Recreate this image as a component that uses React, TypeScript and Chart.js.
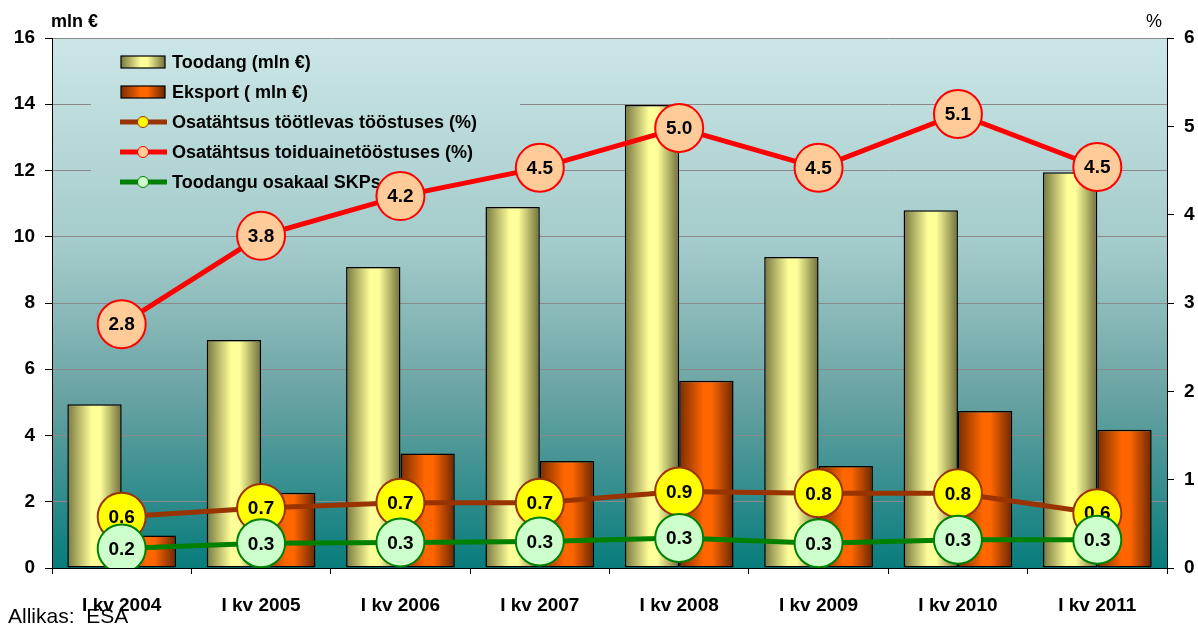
import React, { useEffect, useRef } from "react";
import { Chart, registerables } from "chart.js";

Chart.register(...registerables);

const categories = ["I kv 2004", "I kv 2005", "I kv 2006", "I kv 2007", "I kv 2008", "I kv 2009", "I kv 2010", "I kv 2011"];
const toodang = [4.94, 6.88, 9.09, 10.9, 13.98, 9.39, 10.8, 11.95];
const eksport = [0.98, 2.27, 3.46, 3.23, 5.65, 3.08, 4.74, 4.17];
const osaTootlev = [0.58, 0.68, 0.74, 0.74, 0.865, 0.845, 0.845, 0.62];
const osaToiduaine = [2.76, 3.76, 4.21, 4.53, 4.98, 4.53, 5.14, 4.54];
const osakaalSKP = [0.22, 0.28, 0.29, 0.3, 0.34, 0.28, 0.32, 0.32];

const seriesNames = [
  "Toodang (mln €)",
  "Eksport ( mln €)",
  "Osatähtsus töötlevas tööstuses (%)",
  "Osatähtsus toiduainetööstuses (%)",
  "Toodangu osakaal SKPs",
];
const leftAxisTitle = "mln €";
const rightAxisTitle = "%";
const sourceNote = "Allikas:  ESA";

const FONT = '"Liberation Sans", Arial, sans-serif';

function makeBg(ctx: CanvasRenderingContext2D, top: number, bottom: number) {
  const g = ctx.createLinearGradient(0, top, 0, bottom);
  g.addColorStop(0, "#CCE6E6");
  g.addColorStop(0.4, "#A3CACA");
  g.addColorStop(0.68, "#68A2A2");
  g.addColorStop(1, "#087C7C");
  return g;
}

function barGrad(ctx: CanvasRenderingContext2D, left: number, width: number, dark1: string, bright: string, dark2: string) {
  const g = ctx.createLinearGradient(left, 0, left + width, 0);
  g.addColorStop(0, dark1);
  g.addColorStop(0.45, bright);
  g.addColorStop(0.6, bright);
  g.addColorStop(1, dark2);
  return g;
}

const barColors = [
  ["#77773F", "#FFFF99", "#6E6E3C"],
  ["#7A2C00", "#FF6600", "#6A2600"],
];

const lineStyles = [
  { line: "#993300", fill: "#FFFF00", border: "#993300" },
  { line: "#FF0000", fill: "#FFCC99", border: "#FF0000" },
  { line: "#008000", fill: "#CCFFCC", border: "#008000" },
];

const customPlugin = {
  id: "custom",
  beforeDraw(chart: any) {
    const { ctx, chartArea } = chart;
    const { left, top, right, bottom } = chartArea;
    ctx.save();
    ctx.fillStyle = makeBg(ctx, top, bottom);
    ctx.fillRect(left, top, right - left, bottom - top);
    ctx.restore();
  },
  beforeDatasetsDraw(chart: any) {
    const { ctx, chartArea } = chart;
    chart.data.datasets.forEach((ds: any, i: number) => {
      if (ds.type !== "bar") return;
      const meta = chart.getDatasetMeta(i);
      const cols = barColors[i];
      meta.data.forEach((el: any) => {
        const p = el.getProps(["x", "width"], true);
        const l = p.x - p.width / 2;
        el.options = Object.assign({}, el.options, {
          backgroundColor: barGrad(ctx, l, p.width, cols[0], cols[1], cols[2]),
        });
      });
    });
    ctx.save();
    ctx.fillStyle = makeBg(ctx, chartArea.top, chartArea.bottom);
    ctx.fillRect(91, 39.5, 429, 160);
    const rows = [62, 92, 122, 152, 182];
    ctx.font = `bold 18px ${FONT}`;
    ctx.textBaseline = "middle";
    ctx.textAlign = "left";
    rows.forEach((y, i) => {
      if (i < 2) {
        const c = barColors[i];
        ctx.fillStyle = barGrad(ctx, 121, 44, c[0], c[1], c[2]);
        ctx.fillRect(121, y - 6, 44, 12);
        ctx.lineWidth = 1.2;
        ctx.strokeStyle = "#000";
        ctx.strokeRect(121, y - 6, 44, 12);
      } else {
        const s = lineStyles[i - 2];
        ctx.strokeStyle = s.line;
        ctx.lineWidth = 5;
        ctx.beginPath();
        ctx.moveTo(120, y);
        ctx.lineTo(167, y);
        ctx.stroke();
        ctx.beginPath();
        ctx.arc(143, y, 5.5, 0, Math.PI * 2);
        ctx.fillStyle = s.fill;
        ctx.fill();
        ctx.lineWidth = 1;
        ctx.strokeStyle = s.border;
        ctx.stroke();
      }
      ctx.fillStyle = "#000";
      ctx.fillText(seriesNames[i], 172, y + 1);
    });
    ctx.restore();
  },
  afterDatasetDraw(chart: any, args: any) {
    const meta = args.meta;
    if (meta.type !== "line") return;
    const ds = chart.data.datasets[args.index];
    const { ctx } = chart;
    ctx.save();
    ctx.font = `bold 19px ${FONT}`;
    ctx.fillStyle = "#000";
    ctx.textAlign = "center";
    ctx.textBaseline = "middle";
    meta.data.forEach((el: any, j: number) => {
      const p = el.getProps(["x", "y"], true);
      ctx.fillText(Number(ds.data[j]).toFixed(1), p.x, p.y + 1);
    });
    ctx.restore();
  },
  afterDraw(chart: any) {
    const { ctx } = chart;
    ctx.save();
    ctx.fillStyle = "#000";
    ctx.textBaseline = "middle";
    ctx.textAlign = "left";
    ctx.font = `bold 18px ${FONT}`;
    ctx.fillText(leftAxisTitle, 51, 22);
    ctx.font = `18px ${FONT}`;
    ctx.fillText(rightAxisTitle, 1146, 22);
    ctx.font = `21px ${FONT}`;
    ctx.fillText(sourceNote, 8, 617);
    ctx.restore();
  },
};

export default function App() {
  const ref = useRef<HTMLCanvasElement | null>(null);
  useEffect(() => {
    if (!ref.current) return;
    const tickFont = { family: FONT, size: 19, weight: "bold" as const };
    const lineDs = (label: string, data: number[], s: any, order: number) => ({
      type: "line" as const,
      label,
      data,
      yAxisID: "y1",
      borderColor: s.line,
      borderWidth: 5,
      pointRadius: 24,
      pointHoverRadius: 24,
      pointBackgroundColor: s.fill,
      pointBorderColor: s.border,
      pointBorderWidth: 2,
      tension: 0,
      order,
    });
    const chart = new Chart(ref.current, {
      type: "bar",
      data: {
        labels: categories,
        datasets: [
          {
            type: "bar",
            label: seriesNames[0],
            data: toodang,
            yAxisID: "y",
            backgroundColor: "#FFFF99",
            borderColor: "#000",
            borderWidth: 1.5,
            borderSkipped: false,
            categoryPercentage: 0.78,
            barPercentage: 1,
            order: 3,
          },
          {
            type: "bar",
            label: seriesNames[1],
            data: eksport,
            yAxisID: "y",
            backgroundColor: "#FF6600",
            borderColor: "#000",
            borderWidth: 1.5,
            borderSkipped: false,
            categoryPercentage: 0.78,
            barPercentage: 1,
            order: 4,
          },
          lineDs(seriesNames[2], osaTootlev, lineStyles[0], 1),
          lineDs(seriesNames[3], osaToiduaine, lineStyles[1], 2),
          lineDs(seriesNames[4], osakaalSKP, lineStyles[2], 0),
        ] as any,
      },
      options: {
        animation: false,
        responsive: true,
        maintainAspectRatio: false,
        layout: { padding: { top: 38, left: 0, right: 0, bottom: 0 } },
        plugins: { legend: { display: false }, tooltip: { enabled: false } },
        scales: {
          x: {
            offset: true,
            grid: { offset: true, drawOnChartArea: false, drawTicks: true, tickLength: 6, tickColor: "#000" },
            border: { color: "#000", width: 1 },
            ticks: { font: tickFont, color: "#000", padding: 20, autoSkip: false, maxRotation: 0 },
            afterFit: (s: any) => { s.height = 58; },
          },
          y: {
            position: "left",
            min: 0,
            max: 16,
            ticks: { stepSize: 2, font: tickFont, color: "#000", padding: 10 },
            grid: { color: "#8A8A8A", lineWidth: 1, tickLength: 7, tickColor: "#000" },
            border: { color: "#000", width: 1 },
            afterFit: (s: any) => { s.width = 52; },
          },
          y1: {
            position: "right",
            min: 0,
            max: 6,
            ticks: { stepSize: 1, font: tickFont, color: "#000", padding: 10 },
            grid: { drawOnChartArea: false, tickLength: 7, tickColor: "#000" },
            border: { color: "#000", width: 1 },
            afterFit: (s: any) => { s.width = 31; },
          },
        },
      } as any,
      plugins: [customPlugin],
    });
    return () => chart.destroy();
  }, []);
  return (
    <div style={{ position: "fixed", left: 0, top: 0, width: 1198, height: 626, background: "#fff" }}>
      <canvas ref={ref} />
    </div>
  );
}
